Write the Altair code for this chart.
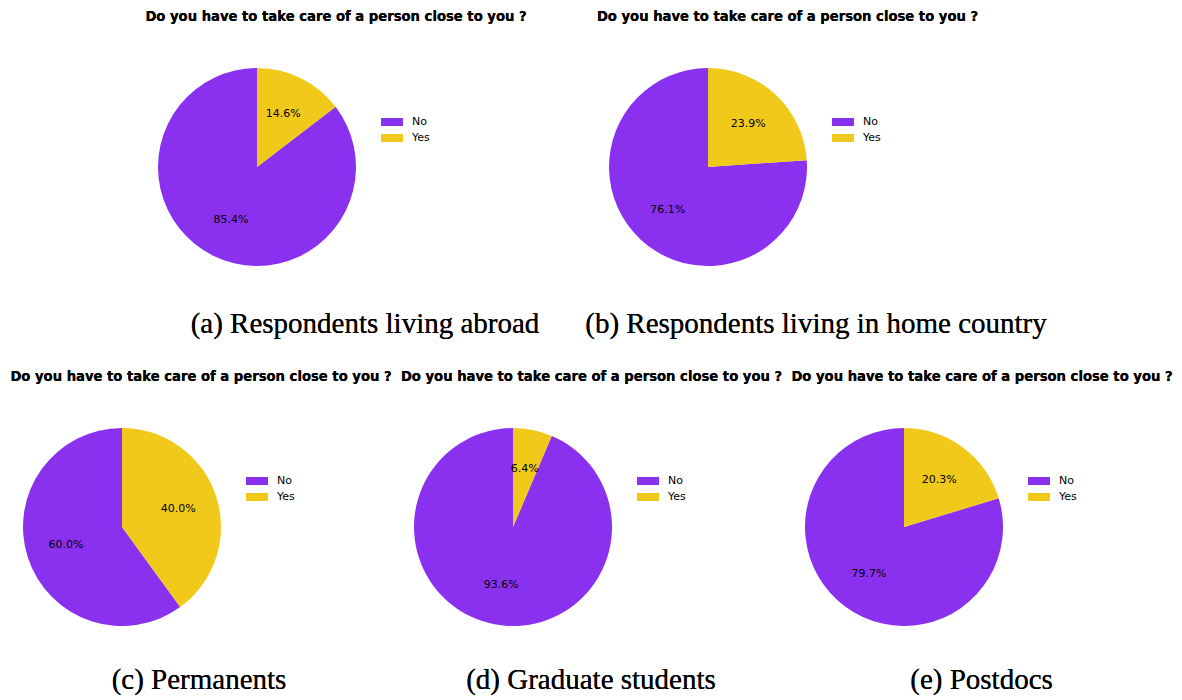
import altair as alt
import pandas as pd

categories = ["No", "Yes"]
question = "Do you have to take care of a person close to you ?"
captions = ["(a) Respondents living abroad", "(b) Respondents living in home country",
            "(c) Permanents", "(d) Graduate students", "(e) Postdocs"]
no_pct = [85.4, 76.1, 60.0, 93.6, 79.7]
yes_pct = [14.6, 23.9, 40.0, 6.4, 20.3]
colors = ["#8a31f0", "#f1c91b"]

TITLE_FONT = "DejaVu Sans"
CAP_FONT = "Liberation Serif"


def panel(i, width, height, cx, cy, title_x, title_y, leg_x, leg_y, cap_x, cap_y):
    df = pd.DataFrame({
        "cat": categories,
        "val": [no_pct[i], yes_pct[i]],
        "ord": [1, 0],
        "label": [f"{no_pct[i]:.1f}%", f"{yes_pct[i]:.1f}%"],
    })
    base = alt.Chart(df)
    color = alt.Color("cat:N", scale=alt.Scale(domain=categories, range=colors),
                      legend=alt.Legend(title=None, orient="none", legendX=leg_x, legendY=leg_y,
                                        symbolType="M-1,-0.364H1V0.364H-1Z", symbolSize=484,
                                        symbolStrokeWidth=0, symbolOpacity=1,
                                        labelFont=TITLE_FONT, labelFontSize=11,
                                        labelColor="#000", labelOffset=9, rowPadding=-6))
    pie = base.mark_arc(radius=99).encode(
        theta=alt.Theta("val:Q", stack=True),
        order=alt.Order("ord:Q"),
        color=color,
        x=alt.value(cx), y=alt.value(cy),
    )
    labels = base.mark_text(radius=59, font=TITLE_FONT, fontSize=11, color="#000").encode(
        theta=alt.Theta("val:Q", stack=True),
        order=alt.Order("ord:Q"),
        text="label:N",
        x=alt.value(cx), y=alt.value(cy),
    )
    title = base.mark_text(font=TITLE_FONT, fontSize=13.2, fontWeight="bold", color="#000",
                           align="center", baseline="middle").encode(
        text=alt.value(question), x=alt.value(title_x), y=alt.value(title_y))
    cap = base.mark_text(font=CAP_FONT, fontSize=29, color="#000",
                         align="center", baseline="middle").encode(
        text=alt.value(captions[i]), x=alt.value(cap_x), y=alt.value(cap_y))
    return alt.layer(pie, labels, title, cap).properties(width=width, height=height)


# page coordinates of the reference minus panel origins
top = alt.hconcat(
    panel(0, 552, 350, 249, 159, 328, 9, 373, 103, 357, 316),
    panel(1, 614, 350, 148, 159, 227.5, 9, 272, 103, 256, 316),
    spacing=0,
).resolve_scale(color="independent")

bottom = alt.hconcat(
    panel(2, 388, 328, 114, 169, 193, 19, 238, 112, 191, 322),
    panel(3, 391, 328, 117, 169, 195.5, 19, 241, 112, 195, 322),
    panel(4, 383, 328, 117, 169, 195, 19, 241, 112, 194.5, 322),
    spacing=0,
).resolve_scale(color="independent")

chart = alt.vconcat(top, bottom, spacing=0).resolve_scale(
    color="independent"
).properties(padding=0, background="white").configure_view(stroke=None, strokeWidth=0)

chart.save("out.html", embed_options={"renderer": "svg", "actions": False})
